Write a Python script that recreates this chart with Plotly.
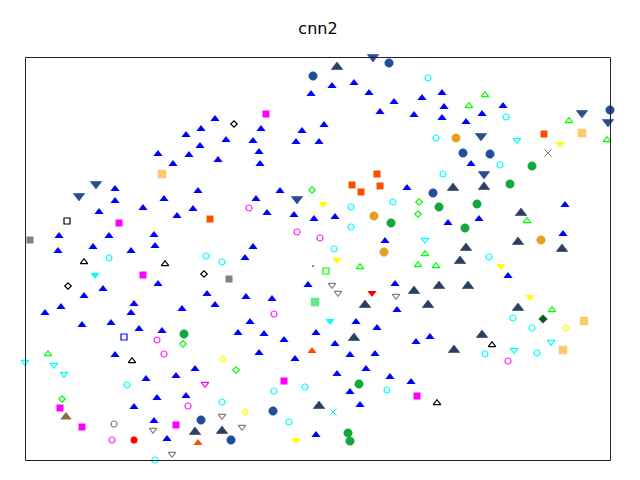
import plotly.graph_objects as go

blue_tri = [(215,118),(201,128),(186,134),(200,145),(158,153),(189,154),(173,163),(218,159),(115,188),(198,190),
(332,85),(354,82),(311,93),(369,92),(394,101),(380,111),(414,114),(422,97),(261,128),(302,130),(324,124),(226,139),
(253,140),(296,141),(319,141),(259,151),(260,163),(280,190),(407,187),(442,92),(444,106),(442,117),(482,113),(466,121),
(503,105),(471,163),(115,200),(143,207),(164,198),(193,208),(99,211),(177,215),(59,235),(109,235),(154,234),(93,246),
(155,245),(58,250),(131,250),(158,283),(103,288),(84,295),(207,293),(215,304),(61,306),(134,303),(131,312),(182,308),
(45,312),(82,324),(111,322),(139,328),(162,330),(256,198),(267,212),(294,214),(314,218),(335,216),(385,240),(253,246),
(245,257),(308,284),(395,283),(246,296),(272,298),(397,309),(250,321),(356,321),(377,327),(238,332),(264,333),(316,332),
(565,204),(448,222),(479,218),(563,233),(508,275),(115,354),(195,368),(146,378),(176,375),(157,397),(186,395),(134,406),
(154,420),(167,438),(284,339),(335,343),(416,341),(259,352),(295,358),(350,354),(375,353),(366,368),(337,373),(390,376),
(411,381),(350,391),(360,404),(316,434),(430,336)]
navy_up = [(337,66),(453,187),(484,186),(365,304),(414,290),(521,212),(518,241),(562,248),(466,247),(460,260),(439,285),
(468,285),(428,304),(518,307),(354,337),(319,405),(222,430),(195,431),(482,334),(454,349)]
navy_down = [(79,197),(96,185),(373,58),(582,114),(608,123),(481,137),(484,175),(297,200)]
navy_circle = [(313,76),(389,63),(610,110),(463,153),(490,154),(433,193),(201,420),(273,411),(231,440)]
green_circle = [(532,166),(510,184),(391,223),(439,207),(477,204),(465,228),(184,334),(359,384),(348,433),(350,441)]
orange_circle = [(456,138),(374,216),(384,252),(541,240)]
orange_square = [(377,174),(352,185),(380,186),(361,192),(544,134),(210,219)]
peach_square = [(162,174),(582,133),(584,321),(563,350)]
magenta_square = [(266,114),(119,223),(143,275),(60,408),(82,427),(176,425),(284,381),(417,396)]
gray_square = [(30,240),(229,279)]
mint_square = [(315,302)]
black_open_square = [(67,221)]
blue_open_square = [(124,337)]
green_open_square = [(326,271)]
cyan_open_circle = [(428,78),(506,117),(436,138),(500,165),(443,174),(351,207),(393,202),(351,227),(334,249),(222,262),
(109,258),(206,256),(489,257),(513,318),(532,328),(485,354),(537,353),(127,385),(222,402),(155,460),(274,391),(305,387),
(289,422),(387,390)]
magenta_open_circle = [(249,208),(297,232),(320,238),(274,314),(157,340),(164,354),(188,406),(112,440),(508,361)]
gray_open_circle = [(114,424)]
red_circle = [(134,440)]
red_down = [(372,294)]
orange_up = [(198,442),(312,350)]
brown_up = [(66,416)]
dark_green_diamond = [(543,319)]
black_open_diamond = [(234,124),(68,286),(204,274)]
green_open_diamond = [(312,190),(419,202),(418,214),(183,344),(62,399),(236,370)]
yellow_open_diamond = [(223,359),(245,412),(566,328)]
green_open_up = [(485,94),(469,105),(569,120),(607,139),(360,266),(418,264),(527,220),(425,253),(436,265),(552,309),(48,353)]
black_open_up = [(84,261),(165,263),(132,360),(492,344),(437,402)]
cyan_open_down = [(517,141),(425,241),(25,363),(54,366),(64,375),(514,351),(551,343)]
magenta_open_down = [(205,385)]
gray_open_down = [(332,286),(338,294),(396,297),(153,431),(172,455),(222,417),(242,428)]
yellow_down = [(560,145),(323,205),(337,261),(501,267),(530,298),(296,441)]
cyan_down = [(95,276),(330,322)]
gray_x = [(548,153)]
cyan_x = [(333,412)]
tiny_dot = [(313,266)]

title_text = "cnn2"

fig = go.Figure()

def add(pts, symbol, color, size, line_color=None, line_width=0):
    # Plotly triangles sit off-centre around their anchor; recentre them on the read position
    nudge = 1 if symbol.startswith("triangle-up") else -1 if symbol.startswith("triangle-down") else 0
    fig.add_trace(go.Scatter(
        x=[p[0] for p in pts], y=[p[1] + nudge for p in pts], mode="markers", cliponaxis=False, showlegend=False,
        marker=dict(symbol=symbol, color=color, size=size,
                    line=dict(color=line_color or color, width=line_width))))

add(blue_tri, "triangle-up", "#0000ff", 8)
add(navy_up, "triangle-up", "#2c3e63", 10, "rgba(44,62,99,0.6)", 1)
add(navy_down, "triangle-down", "#2b4d8f", 10, "rgba(43,77,143,0.6)", 1)
add(navy_circle, "circle", "#1f4e9c", 8.5, "rgba(31,78,156,0.5)", 1)
add(green_circle, "circle", "#13a83e", 8.5, "rgba(19,168,62,0.5)", 1)
add(orange_circle, "circle", "#e8a020", 8.5, "rgba(232,160,32,0.5)", 1)
add(orange_square, "square", "#ff4d00", 7)
add(peach_square, "square", "#fcc870", 8, "rgba(252,200,112,0.5)", 1)
add(magenta_square, "square", "#ff00ff", 7)
add(gray_square, "square", "#808080", 7)
add(mint_square, "square", "#66e888", 8, "rgba(102,232,136,0.5)", 1)
add(black_open_square, "square-open", "#000000", 6, None, 1.2)
add(blue_open_square, "square-open", "#0000ff", 6, None, 1.2)
add(green_open_square, "square-open", "#00ff00", 6, None, 1.2)
add(cyan_open_circle, "circle-open", "#00ffff", 6, None, 1.2)
add(magenta_open_circle, "circle-open", "#ff22ff", 6, None, 1.2)
add(gray_open_circle, "circle-open", "#808080", 6, None, 1.2)
add(red_circle, "circle", "#ff0000", 7)
add(red_down, "triangle-down", "#ff0000", 8)
add(orange_up, "triangle-up", "#ff4d00", 8)
add(brown_up, "triangle-up", "#8a6d40", 10)
add(dark_green_diamond, "diamond", "#0b5a1e", 7)
add(black_open_diamond, "diamond-open", "#000000", 5, None, 1.2)
add(green_open_diamond, "diamond-open", "#00ff00", 5, None, 1.2)
add(yellow_open_diamond, "diamond-open", "#ffff00", 5, None, 1.2)
add(green_open_up, "triangle-up-open", "#00ff00", 6.5, None, 1.2)
add(black_open_up, "triangle-up-open", "#000000", 6.5, None, 1.2)
add(cyan_open_down, "triangle-down-open", "#00ffff", 6.5, None, 1.2)
add(magenta_open_down, "triangle-down-open", "#ff00ff", 6.5, None, 1.2)
add(gray_open_down, "triangle-down-open", "#808080", 6.5, None, 1.2)
add(yellow_down, "triangle-down", "#ffff00", 8)
add(cyan_down, "triangle-down", "#00ffff", 8)
add(gray_x, "x-thin-open", "#808080", 7, "#808080", 1)
add(cyan_x, "x-thin-open", "#00ffff", 7, "#00ffff", 1)
add(tiny_dot, "circle", "#8a4a8a", 2)

axis = dict(showgrid=False, zeroline=False, showticklabels=False, ticks="", showline=False, visible=False)
fig.add_shape(type="rect", xref="x", yref="y", x0=25.5, x1=610.5, y0=57.5, y1=460.5,
              line=dict(color="#222222", width=1), fillcolor="rgba(0,0,0,0)", layer="above")
fig.update_layout(
    width=624, height=464, autosize=False, paper_bgcolor="white", plot_bgcolor="white",
    margin=dict(l=0, r=0, t=0, b=0, pad=0),
    title=dict(text=title_text, x=(318-8)/624, xref="paper", xanchor="center",
               y=(464-(28-8))/464, yref="container", yanchor="middle",
               font=dict(family="DejaVu Sans", size=16, color="#000000")),
    xaxis=dict(range=[8, 632], **axis),
    yaxis=dict(range=[472, 8], **axis),
)
fig.write_html("out.html")
